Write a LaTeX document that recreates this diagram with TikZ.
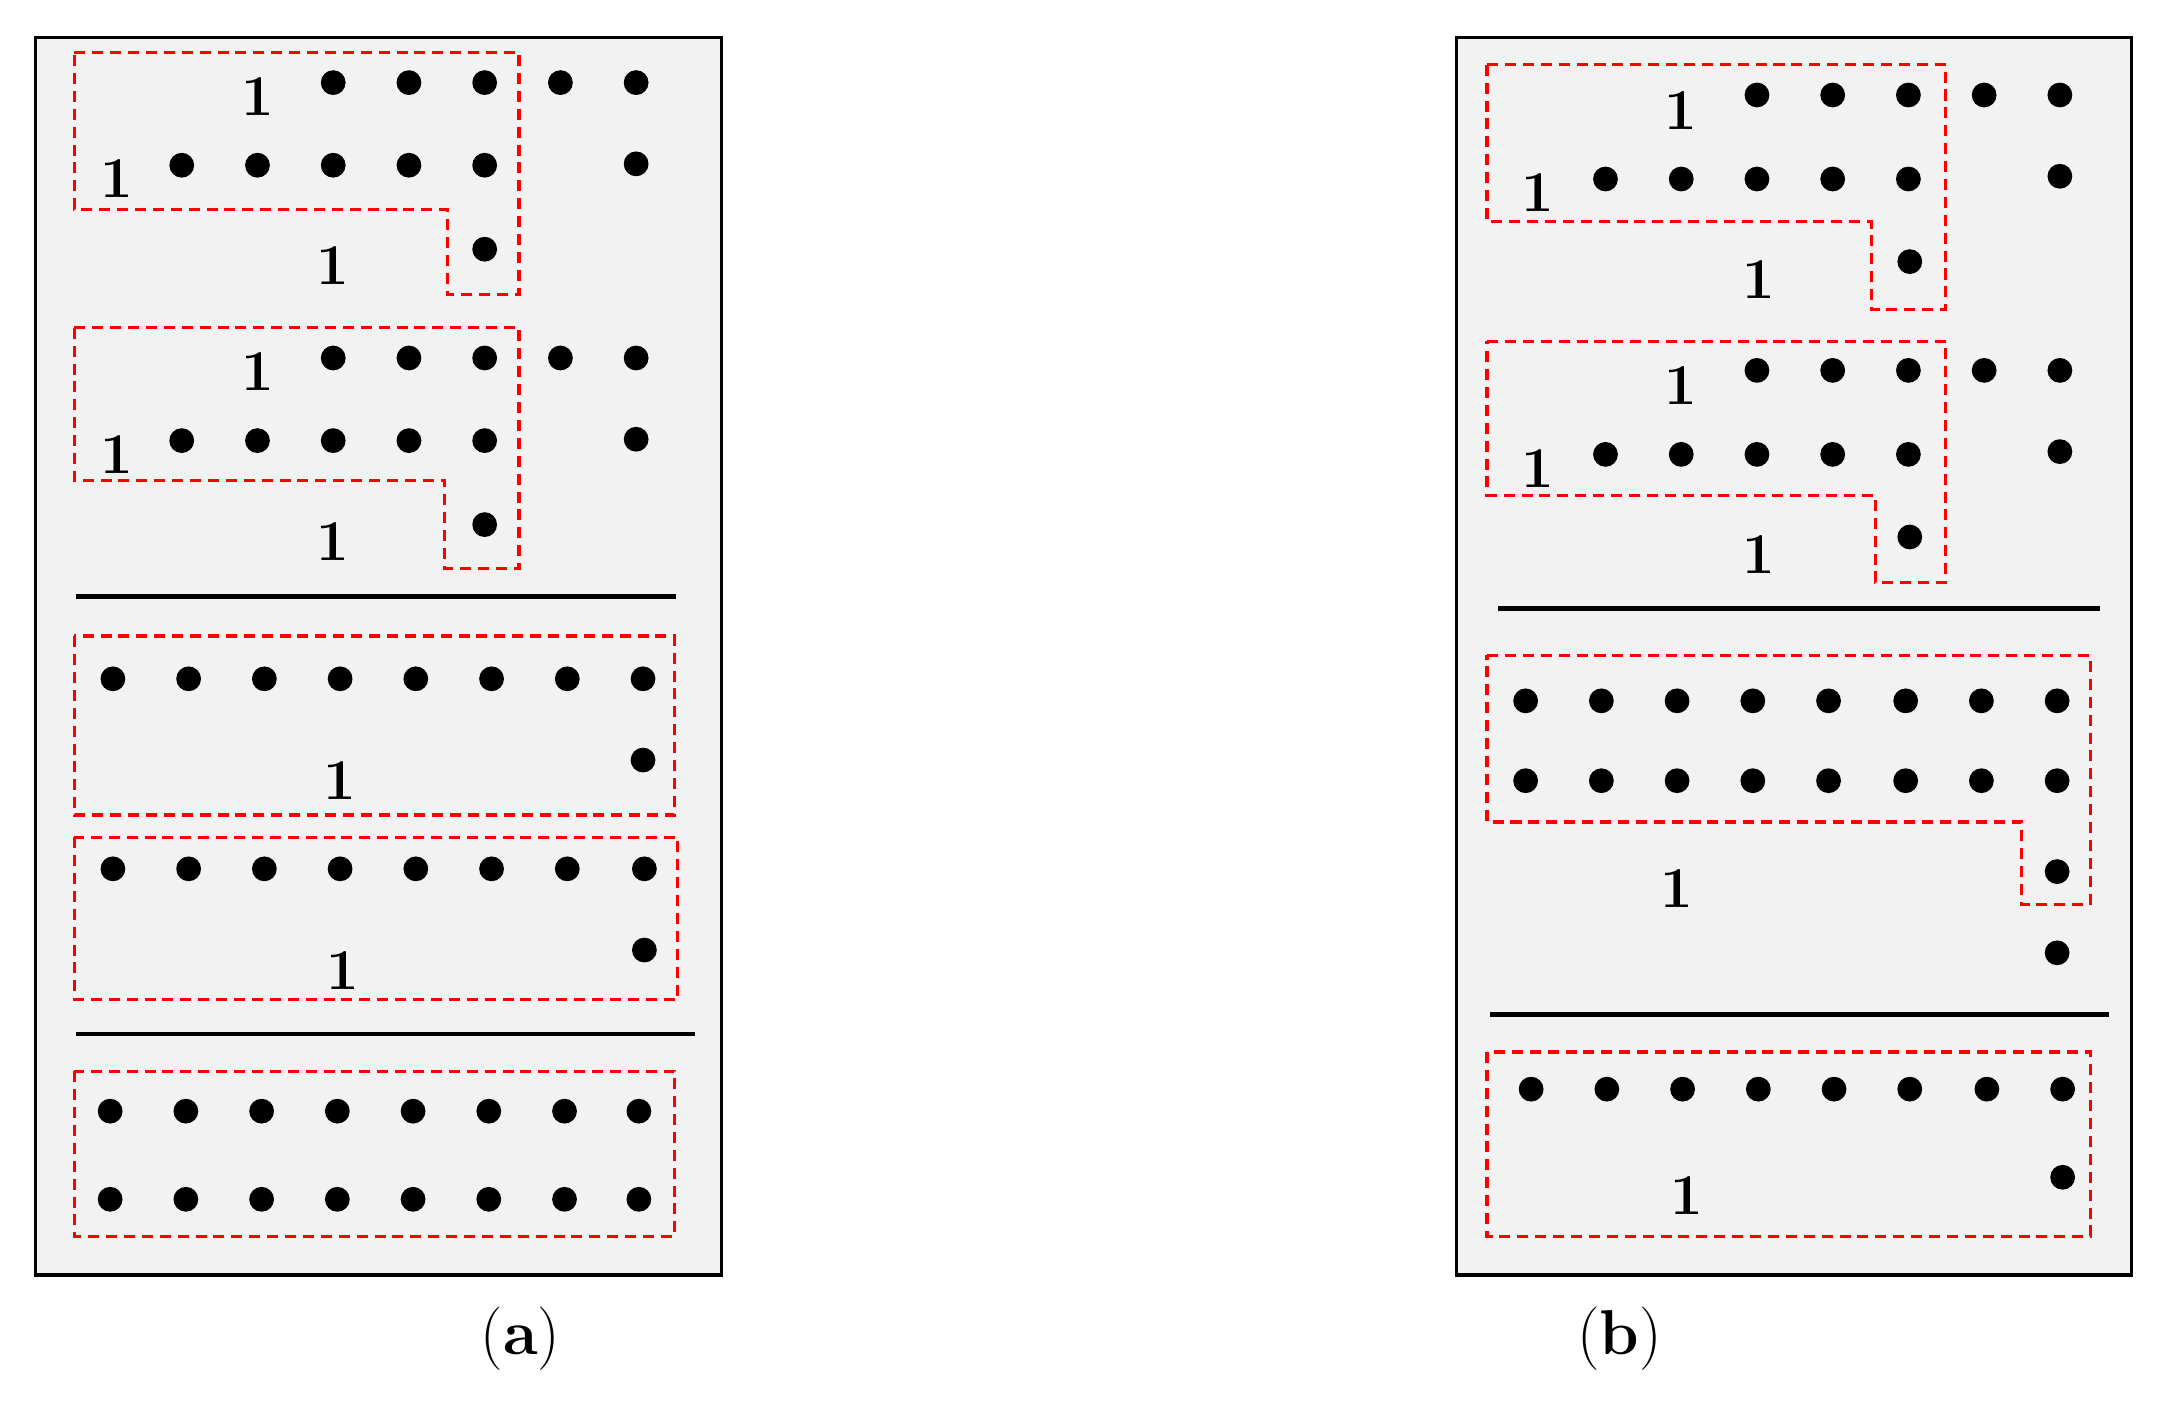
\documentclass[tikz,border=0pt]{standalone}
\begin{document}
\begin{tikzpicture}[x=1pt,y=-1pt,
  dot/.style={circle,fill=black,inner sep=0pt,minimum size=18pt},
  one/.style={font=\fontsize{42}{48}\selectfont\bfseries,inner sep=0pt},
  lab/.style={font=\fontsize{46}{52}\selectfont,inner sep=0pt},
  grp/.style={red,line width=2.4pt,dash pattern=on 8pt off 5pt},
  sep/.style={black,line width=3.5pt},
  panel/.style={draw=black,line width=2.4pt,fill=black!5}]
\useasboundingbox (0,0) rectangle (1568,1024);
% panel a
\draw[panel] (26,27) rectangle (524,926);
\foreach \dy in {0,200}{
  \foreach \x in {242,297,352,407,462} \node[dot] at (\x,60+\dy) {};
  \foreach \x in {132,187,242,297,352} \node[dot] at (\x,120+\dy) {};
  \node[dot] at (462,119+\dy) {};
  \node[dot] at (352,181+\dy) {};
  \node[one] at (187,70+\dy) {1};
  \node[one] at (85,130+\dy) {1};
  \node[one] at (242,193+\dy) {1};
}
\draw[grp] (54,38) -- (377,38) -- (377,214) -- (325,214) -- (325,152) -- (54,152) -- cycle;
\draw[grp] (54,238) -- (377,238) -- (377,413) -- (323,413) -- (323,349) -- (54,349) -- cycle;
\draw[sep] (55,433) -- (491,433);
\foreach \x in {82,137,192,247,302,357,412,467} \node[dot] at (\x,493) {};
\node[dot] at (467,552) {};
\node[one] at (247,567) {1};
\draw[grp] (54,462) rectangle (490,592);
\foreach \x in {82,137,192,247,302,357,412,468} \node[dot] at (\x,631) {};
\node[dot] at (468,690) {};
\node[one] at (249,705) {1};
\draw[grp] (54,608) rectangle (492,726);
\draw[sep] (55,751) -- (505,751);
\foreach \x in {80,135,190,245,300,355,410,464} {\node[dot] at (\x,807) {}; \node[dot] at (\x,871) {};}
\draw[grp] (54,778) rectangle (490,898);
\node[lab] at (378,972) {(\textbf{a})};
% panel b
\draw[panel] (1058,27) rectangle (1548,926);
\foreach \dy in {0,200}{
  \foreach \x in {1276,1331,1386,1441,1496} \node[dot] at (\x,69+\dy) {};
  \foreach \x in {1166,1221,1276,1331,1386} \node[dot] at (\x,130+\dy) {};
  \node[dot] at (1496,128+\dy) {};
  \node[dot] at (1387,190+\dy) {};
  \node[one] at (1221,80+\dy) {1};
  \node[one] at (1117,140+\dy) {1};
  \node[one] at (1277,203+\dy) {1};
}
\draw[grp] (1080,47) -- (1413,47) -- (1413,225) -- (1359,225) -- (1359,161) -- (1080,161) -- cycle;
\draw[grp] (1080,248) -- (1413,248) -- (1413,423) -- (1362,423) -- (1362,360) -- (1080,360) -- cycle;
\draw[sep] (1088,442) -- (1525,442);
\foreach \x in {1108,1163,1218,1273,1328,1384,1439,1494} {\node[dot] at (\x,509) {}; \node[dot] at (\x,567) {};}
\node[dot] at (1494,633) {};
\node[dot] at (1494,692) {};
\node[one] at (1218,645) {1};
\draw[grp] (1080,476) -- (1518,476) -- (1518,657) -- (1468,657) -- (1468,597) -- (1080,597) -- cycle;
\draw[sep] (1082,737) -- (1532,737);
\foreach \x in {1112,1167,1222,1277,1332,1387,1443,1498} \node[dot] at (\x,791) {};
\node[dot] at (1498,855) {};
\node[one] at (1225,868) {1};
\draw[grp] (1080,764) rectangle (1518,898);
\node[lab] at (1176,972) {(\textbf{b})};
\end{tikzpicture}
\end{document}
